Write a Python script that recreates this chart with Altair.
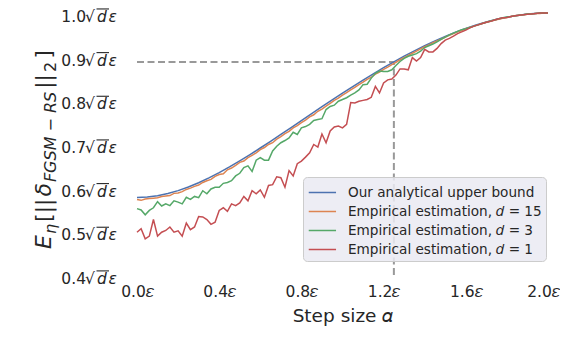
import altair as alt
import pandas as pd

# ---------------- data ----------------
alpha_fine = [round(i * 0.02, 2) for i in range(101)]
alpha_coarse = [round(i * 0.05, 2) for i in range(41)]

bound = [0.5774, 0.5784, 0.5815, 0.5865, 0.5933, 0.6016, 0.6114, 0.6224, 0.6346, 0.6476,
         0.6614, 0.6759, 0.6909, 0.7063, 0.7219, 0.7377, 0.7537, 0.7696, 0.7854, 0.8010,
         0.8165, 0.8317, 0.8465, 0.8609, 0.8748, 0.8883, 0.9012, 0.9135, 0.9252, 0.9362,
         0.9465, 0.9560, 0.9647, 0.9726, 0.9795, 0.9856, 0.9906, 0.9946, 0.9976, 0.9994, 1.0]

emp_d15 = [0.573, 0.571, 0.574, 0.575, 0.576, 0.577, 0.580, 0.581, 0.582, 0.587,
           0.588, 0.591, 0.596, 0.599, 0.603, 0.606, 0.612, 0.616, 0.619, 0.626,
           0.630, 0.632, 0.641, 0.645, 0.651, 0.658, 0.661, 0.669, 0.674, 0.680,
           0.687, 0.692, 0.699, 0.703, 0.711, 0.717, 0.724, 0.729, 0.737, 0.742,
           0.749, 0.755, 0.762, 0.767, 0.775, 0.780, 0.787, 0.793, 0.800, 0.805,
           0.812, 0.818, 0.824, 0.830, 0.836, 0.842, 0.848, 0.853, 0.860, 0.865,
           0.871, 0.876, 0.882, 0.887, 0.893, 0.898, 0.903, 0.908, 0.913, 0.918,
           0.923, 0.927, 0.932, 0.936, 0.940, 0.945, 0.949, 0.953, 0.957, 0.960,
           0.964, 0.967, 0.970, 0.973, 0.976, 0.979, 0.981, 0.984, 0.986, 0.988,
           0.990, 0.992, 0.994, 0.995, 0.996, 0.997, 0.998, 0.999, 0.999, 1.0, 1.0]

emp_d3 = [0.552, 0.549, 0.538, 0.548, 0.554, 0.568, 0.558, 0.563, 0.559, 0.570,
          0.567, 0.563, 0.578, 0.573, 0.580, 0.577, 0.593, 0.586, 0.597, 0.601,
          0.601, 0.610, 0.612, 0.616, 0.627, 0.633, 0.646, 0.650, 0.637, 0.663,
          0.669, 0.663, 0.663, 0.684, 0.695, 0.703, 0.708, 0.714, 0.727, 0.722,
          0.737, 0.740, 0.745, 0.754, 0.756, 0.758, 0.779, 0.786, 0.789, 0.798,
          0.802, 0.806, 0.812, 0.817, 0.824, 0.836, 0.837, 0.851, 0.862, 0.867,
          0.866, 0.866, 0.870, 0.880, 0.889, 0.896, 0.901, 0.904, 0.907, 0.913,
          0.921, 0.925, 0.929, 0.934, 0.940, 0.945, 0.950, 0.954, 0.958, 0.962,
          0.964, 0.967, 0.970, 0.973, 0.976, 0.979, 0.982, 0.984, 0.987, 0.989,
          0.991, 0.992, 0.994, 0.995, 0.996, 0.998, 0.998, 0.999, 1.0, 1.0, 1.0]

emp_d1 = [0.498, 0.506, 0.483, 0.489, 0.527, 0.489, 0.498, 0.502, 0.510, 0.498,
          0.501, 0.489, 0.519, 0.504, 0.510, 0.534, 0.533, 0.527, 0.516, 0.521,
          0.548, 0.554, 0.546, 0.563, 0.559, 0.565, 0.580, 0.570, 0.593, 0.586,
          0.595, 0.578, 0.605, 0.607, 0.625, 0.623, 0.601, 0.639, 0.627, 0.655,
          0.661, 0.670, 0.680, 0.699, 0.693, 0.723, 0.703, 0.730, 0.739, 0.741,
          0.737, 0.745, 0.795, 0.794, 0.798, 0.800, 0.802, 0.807, 0.832, 0.817,
          0.840, 0.847, 0.849, 0.858, 0.872, 0.872, 0.870, 0.898, 0.890, 0.898,
          0.917, 0.911, 0.911, 0.919, 0.930, 0.938, 0.942, 0.947, 0.953, 0.957,
          0.961, 0.966, 0.970, 0.973, 0.976, 0.979, 0.981, 0.984, 0.987, 0.989,
          0.990, 0.992, 0.994, 0.995, 0.996, 0.997, 0.998, 0.999, 1.0, 1.0, 1.0]

series_names = ["Our analytical upper bound",
                "Empirical estimation, \U0001D451 = 15",
                "Empirical estimation, \U0001D451 = 3",
                "Empirical estimation, \U0001D451 = 1"]
series_colors = ["#4C72B0", "#DD8452", "#55A868", "#C44E52"]

x_ticks = [0.0, 0.4, 0.8, 1.2, 1.6, 2.0]
y_ticks = [0.4, 0.5, 0.6, 0.7, 0.8, 0.9, 1.0]

marker_alpha = 1.25
marker_value = 0.888

# ---------------- tables ----------------
rows = []
for a, v in zip(alpha_coarse, bound):
    rows.append({"alpha": a, "value": v, "series": series_names[0], "k": 0})
for k, vals in ((1, emp_d15), (2, emp_d3), (3, emp_d1)):
    for a, v in zip(alpha_fine, vals):
        rows.append({"alpha": a, "value": v, "series": series_names[k], "k": k})
df = pd.DataFrame(rows)

hline = pd.DataFrame({"x0": [0.0], "x1": [marker_alpha], "y": [marker_value]})
vline = pd.DataFrame({"x": [marker_alpha], "y0": [0.4], "y1": [marker_value]})
yt = pd.DataFrame({"v": y_ticks})

FONT = "DejaVu Sans"
TXT = "#262626"

xs = alt.Scale(domain=[0, 2], nice=False, zero=False)
ys = alt.Scale(domain=[0.4, 1.007], nice=False, zero=False)

x_axis = alt.Axis(values=x_ticks, labelExpr="format(datum.value, '.1f') + '\U0001D700'",
                  title="Step size \U0001D6FC", grid=True, ticks=False, domain=False,
                  labelFlush=False, labelOverlap=False,
                  labelOffset={"condition": {"test": "datum.value >= 1.99", "value": -5},
                               "value": 0},
                  labelPadding=9, titlePadding=7, labelFontSize=15.5, titleFontSize=18.5,
                  titleFontWeight="normal", labelColor=TXT, titleColor=TXT,
                  labelFont=FONT, titleFont=FONT, gridColor="white", gridWidth=1.3)
y_axis = alt.Axis(values=y_ticks, labels=False, title=None, grid=True, ticks=False,
                  domain=False, gridColor="white", gridWidth=1.3)

X = lambda f: alt.X(f, scale=xs, axis=x_axis)
Y = lambda f: alt.Y(f, scale=ys, axis=y_axis)

base_rule = dict(color="#999999", strokeWidth=2, strokeDash=[7, 3.5])
h = alt.Chart(hline).mark_rule(**base_rule).encode(x=X("x0:Q"), x2="x1:Q", y=Y("y:Q"))
v = alt.Chart(vline).mark_rule(**base_rule).encode(x=X("x:Q"), y=Y("y0:Q"), y2="y1:Q")

lines = alt.Chart(df).mark_line(strokeWidth=1.5).encode(
    x=X("alpha:Q"),
    y=Y("value:Q"),
    color=alt.Color("series:N", sort=series_names,
                    scale=alt.Scale(domain=series_names, range=series_colors),
                    legend=alt.Legend(title=None, orient="none", legendX=166, legendY=167,
                                      symbolType="M-0.93,0H1.67", symbolSize=441,
                                      symbolStrokeWidth=1.5,
                                      labelFontSize=13.6, labelFont=FONT, labelColor=TXT,
                                      labelOffset=18, rowPadding=0, padding=4,
                                      fillColor="rgba(234,234,242,0.85)", strokeColor="#cccccc",
                                      cornerRadius=4, labelLimit=400)),
    detail="k:O",
    order="alpha:Q")

# ---- y tick labels: number, radical, italic d and epsilon ----
LBL = 15.5
DY = 9
tick_num = alt.Chart(yt).mark_text(align="right", baseline="alphabetic", dy=DY, fontSize=LBL,
                                   font=FONT, color=TXT).encode(
    y=Y("v:Q"), x=alt.value(-51), text=alt.Text("v:Q", format=".1f"))
tick_rad = alt.Chart(yt).mark_text(text="\u221A", align="left", baseline="alphabetic", dy=DY,
                                   fontSize=LBL, font=FONT, color=TXT).encode(
    y=Y("v:Q"), x=alt.value(-52))
tick_bar = alt.Chart(yt).mark_rule(yOffset=-4.1, strokeWidth=1.1, color=TXT).encode(
    y=Y("v:Q"), x=alt.value(-40.5), x2=alt.value(-28))
tick_d = alt.Chart(yt).mark_text(text="d", align="left", baseline="alphabetic", dy=DY,
                                 fontSize=LBL, fontStyle="italic", font=FONT, color=TXT).encode(
    y=Y("v:Q"), x=alt.value(-40))
tick_e = alt.Chart(yt).mark_text(text="\u03B5", align="left", baseline="alphabetic", dy=DY,
                                 fontSize=LBL, fontStyle="italic", font=FONT, color=TXT).encode(
    y=Y("v:Q"), x=alt.value(-28.5))

# ---- y-axis title built from pieces (rotated), to show sub-scripts ----
MAIN = 22
SUB = 16
BX = -86
SX = -81
pieces = [("E", MAIN, "italic", BX, 0.632, 1),
          ("\u03B7", SUB, "italic", SX, 0.634, 2),
          ("[||", MAIN, "normal", BX, 1.064, 2),
          ("\u03B4", MAIN, "italic", BX, 0.612, 1),
          ("FGSM", SUB, "italic", SX, 2.849, 5),
          ("\u2212", SUB, "normal", SX, 0.838, 5),
          ("RS", SUB, "italic", SX, 1.33, 3),
          ("||", MAIN, "normal", BX, 0.674, 2),
          ("2", SUB, "normal", SX, 0.636, 3),
          ("]", MAIN, "normal", BX, 0.39, 0)]
one = pd.DataFrame({"z": [0]})
title_layers = []
pos = 239.0
for t, sz, st, xx, w, gap in pieces:
    title_layers.append(
        alt.Chart(one).mark_text(text=t, x=xx, y=pos, angle=270, align="left",
                                 baseline="alphabetic", fontSize=sz, fontStyle=st,
                                 font=FONT, color=TXT))
    pos -= w * sz + gap

chart = alt.layer(h, v, lines, tick_num, tick_rad, tick_bar, tick_d, tick_e,
                  *title_layers).properties(
    width=411, height=265,
    autosize=alt.AutoSizeParams(type="none"),
    padding={"left": 129, "top": 2, "right": 12, "bottom": 75},
    background="white",
).configure_view(fill="#EAEAF2", stroke="transparent")

chart.save("out.html", embed_options={"renderer": "svg", "actions": False})
